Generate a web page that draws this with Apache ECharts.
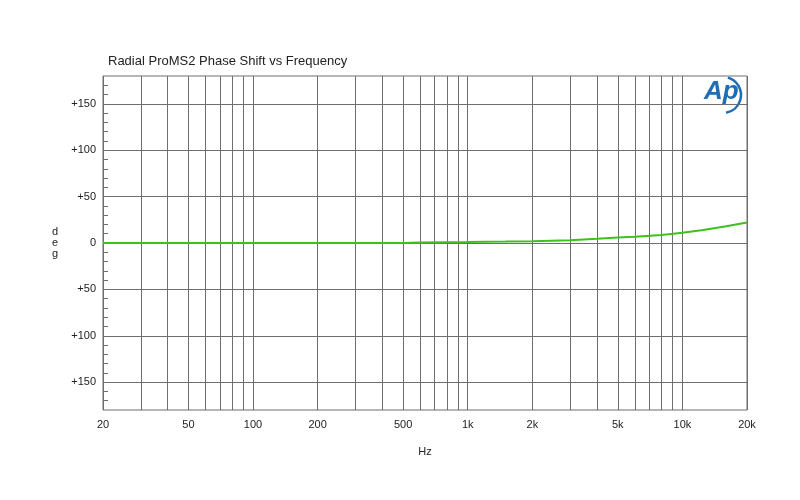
<!DOCTYPE html>
<html>
<head>
<meta charset="utf-8">
<script src="https://cdn.jsdelivr.net/npm/echarts@6/dist/echarts.min.js"></script>
<style>
  html, body { margin: 0; padding: 0; background: #fff; }
  #chart { width: 800px; height: 500px; }
</style>
</head>
<body>
<div id="chart"></div>
<script>
// measured phase (deg) vs frequency (Hz)
var freqs = [20, 50, 100, 200, 400, 500, 600, 800, 1000, 1500, 2000, 3000, 4000, 5000, 6000, 8000, 10000, 12500, 16000, 20000];
var phase = [0, 0, 0, 0, 0, 0.1, 0.6, 0.8, 1.0, 1.5, 2.0, 3.0, 4.5, 5.8, 6.8, 8.6, 11.0, 14.0, 18.0, 22.0];

// grid / tick values
var xGrid = [20, 30, 40, 50, 60, 70, 80, 90, 100, 200, 300, 400, 500, 600, 700, 800, 900,
             1000, 2000, 3000, 4000, 5000, 6000, 7000, 8000, 9000, 10000, 20000];
var xLabels = [20, 50, 100, 200, 500, 1000, 2000, 5000, 10000, 20000];
var yMajor = [-150, -100, -50, 0, 50, 100, 150];
var yMinor = [-170, -160, -150, -140, -130, -120, -110, -100, -90, -80, -70, -60, -50, -40, -30, -20, -10,
              0, 10, 20, 30, 40, 50, 60, 70, 80, 90, 100, 110, 120, 130, 140, 150, 160, 170];

var chart = echarts.init(document.getElementById('chart'));
var labelStyle = { color: '#222', fontSize: 11, fontFamily: 'Liberation Sans, Arial, sans-serif' };
var gridColor = '#6e6e6e';

var option = {
    animation: false,
    title: {
        text: 'Radial ProMS2 Phase Shift vs Frequency',
        left: 103, top: 50,
        textStyle: { color: '#222', fontSize: 13, fontWeight: 'normal', fontFamily: 'Liberation Sans, Arial, sans-serif' }
    },
    grid: {
        left: 103, right: 53, top: 76, bottom: 90,
        show: true, borderColor: gridColor, borderWidth: 1
    },
    xAxis: {
        type: 'log',
        min: 20, max: 20000,
        name: 'Hz', nameLocation: 'middle', nameGap: 36,
        nameTextStyle: labelStyle,
        axisLine: { show: false },
        axisTick: { show: true, length: 0, customValues: xGrid },
        splitLine: { show: true, lineStyle: { color: gridColor, width: 1 } },
        axisLabel: Object.assign({
            customValues: xLabels, margin: 9,
            formatter: function (v) { return v >= 1000 ? (v / 1000) + 'k' : String(v); }
        }, labelStyle)
    },
    yAxis: [{
        type: 'value',
        min: -180, max: 180,
        name: 'd\ne\ng', nameLocation: 'middle', nameGap: 45, nameRotate: 0,
        nameTextStyle: Object.assign({ lineHeight: 11, padding: [4, 0, 0, 0] }, labelStyle),
        axisLine: { show: false },
        axisTick: { show: true, inside: true, length: 5, customValues: yMinor, lineStyle: { color: gridColor } },
        splitLine: { show: false },
        axisLabel: Object.assign({
            customValues: yMajor, margin: 7,
            formatter: function (v) { return v === 0 ? '0' : '+' + Math.abs(v); }
        }, labelStyle)
    }, {
        type: 'value',
        min: -180, max: 180,
        position: 'left',
        axisLine: { show: false },
        axisTick: { show: false, customValues: yMajor },
        axisLabel: { show: false, customValues: yMajor },
        splitLine: { show: true, lineStyle: { color: gridColor, width: 1 } }
    }],
    series: [{
        type: 'line',
        yAxisIndex: 0,
        data: freqs.map(function (f, i) { return [f, phase[i]]; }),
        showSymbol: false,
        lineStyle: { color: '#3cc21a', width: 2 },
        z: 5
    }],
    graphic: [{
        type: 'text',
        left: 704, top: 79,
        style: { text: 'Ap', fill: '#1f6db5', font: 'italic bold 26px Liberation Sans, Arial, sans-serif' }
    }, {
        type: 'arc',
        shape: { cx: 723, cy: 95, r: 18, startAngle: -1.3, endAngle: 1.4 },
        style: { stroke: '#1f6db5', lineWidth: 2.5, fill: null }
    }]
};

chart.setOption(option);
</script>
</body>
</html>
